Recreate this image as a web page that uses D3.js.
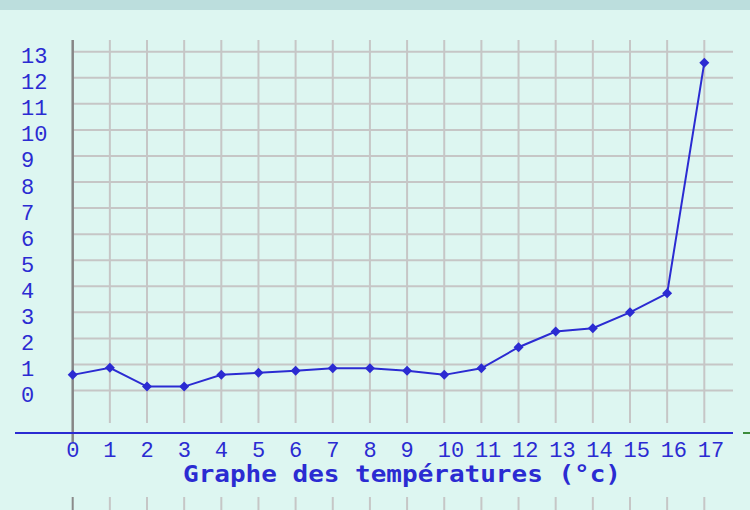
<!DOCTYPE html>
<html>
<head>
<meta charset="utf-8">
<script src="https://cdn.jsdelivr.net/npm/d3@7"></script>
<style>
  html, body { margin: 0; padding: 0; background: #dcf6f1; }
  svg { display: block; }
</style>
</head>
<body>
<svg id="chart"></svg>
<script>
// hours along the bottom
const hours = [0, 1, 2, 3, 4, 5, 6, 7, 8, 9, 10, 11, 12, 13, 14, 15, 16, 17];
// temperature readings (°c)
const temps = [0.6, 0.87, 0.15, 0.15, 0.6, 0.68, 0.76, 0.85, 0.85, 0.76, 0.6, 0.85, 1.66, 2.26, 2.39, 3.0, 3.73, 12.58];
// y tick labels
const yTicks = [0, 1, 2, 3, 4, 5, 6, 7, 8, 9, 10, 11, 12, 13];
const title = "Graphe des températures (°c)";

const width = 750, height = 510;
const blue = "#2b2bd2";
const gridColor = "#c6c6c6";

const svg = d3.select("#chart")
  .attr("width", width)
  .attr("height", height);

// background + top band
svg.append("rect").attr("width", width).attr("height", height).attr("fill", "#ddf6f1");
svg.append("rect").attr("width", width).attr("height", 10).attr("fill", "#bcdedd");

const x = d3.scaleLinear().domain([0, 17]).range([72.7, 704.3]);
const y = d3.scaleLinear().domain([0, 13]).range([390.5, 51.7]);

const gridTop = 40, gridBottom = 423, gridRight = 733;

// horizontal grid
svg.append("g").selectAll("line")
  .data(yTicks)
  .enter()
  .append("line")
  .attr("x1", x(0))
  .attr("x2", gridRight)
  .attr("y1", d => y(d))
  .attr("y2", d => y(d))
  .style("stroke", gridColor)
  .style("stroke-width", 2);

// vertical grid
svg.append("g").selectAll("line")
  .data(hours.slice(1))
  .enter()
  .append("line")
  .attr("x1", d => x(d))
  .attr("x2", d => x(d))
  .attr("y1", gridTop)
  .attr("y2", gridBottom)
  .style("stroke", gridColor)
  .style("stroke-width", 2);

// small ticks at the very bottom
svg.append("g").selectAll("line")
  .data(hours)
  .enter()
  .append("line")
  .attr("x1", d => x(d))
  .attr("x2", d => x(d))
  .attr("y1", 497)
  .attr("y2", height)
  .style("stroke", d => d === 0 ? "#8a8a8a" : gridColor)
  .style("stroke-width", 2);

// y axis line
svg.append("line")
  .attr("x1", x(0)).attr("x2", x(0))
  .attr("y1", gridTop).attr("y2", 442)
  .style("stroke", "#868686")
  .style("stroke-width", 2.5);

// blue baseline
svg.append("line")
  .attr("x1", 15).attr("x2", gridRight)
  .attr("y1", 433).attr("y2", 433)
  .style("stroke", blue)
  .style("stroke-width", 2);

// little green mark at the right
svg.append("line")
  .attr("x1", 743).attr("x2", 750)
  .attr("y1", 433).attr("y2", 433)
  .style("stroke", "#3c8c3c")
  .style("stroke-width", 2);

// y labels
svg.append("g").selectAll("text")
  .data(yTicks)
  .enter()
  .append("text")
  .attr("x", 21)
  .attr("y", d => y(d) + 11.5)
  .style("font-family", "Liberation Mono, monospace")
  .style("font-size", "22px")
  .style("fill", blue)
  .text(d => d);

// x labels
svg.append("g").selectAll("text")
  .data(hours)
  .enter()
  .append("text")
  .attr("x", d => x(d) - 6.5)
  .attr("y", 457)
  .style("font-family", "Liberation Mono, monospace")
  .style("font-size", "22px")
  .style("fill", blue)
  .text(d => d);

// title
svg.append("text")
  .attr("x", 183)
  .attr("y", 481.5)
  .attr("textLength", 438)
  .attr("lengthAdjust", "spacingAndGlyphs")
  .style("font-family", "DejaVu Sans Mono, monospace")
  .style("font-weight", "bold")
  .style("font-size", "23px")
  .style("fill", blue)
  .text(title);

// the line
const line = d3.line()
  .x((d, i) => x(hours[i]))
  .y(d => y(d));

svg.append("path")
  .datum(temps)
  .attr("d", line)
  .style("fill", "none")
  .style("stroke", blue)
  .style("stroke-width", 2);

// diamond markers
svg.append("g").selectAll("path")
  .data(temps)
  .enter()
  .append("path")
  .attr("transform", (d, i) => `translate(${x(hours[i])},${y(d)})`)
  .attr("d", "M0,-5L5,0L0,5L-5,0Z")
  .style("fill", blue);
</script>
</body>
</html>
